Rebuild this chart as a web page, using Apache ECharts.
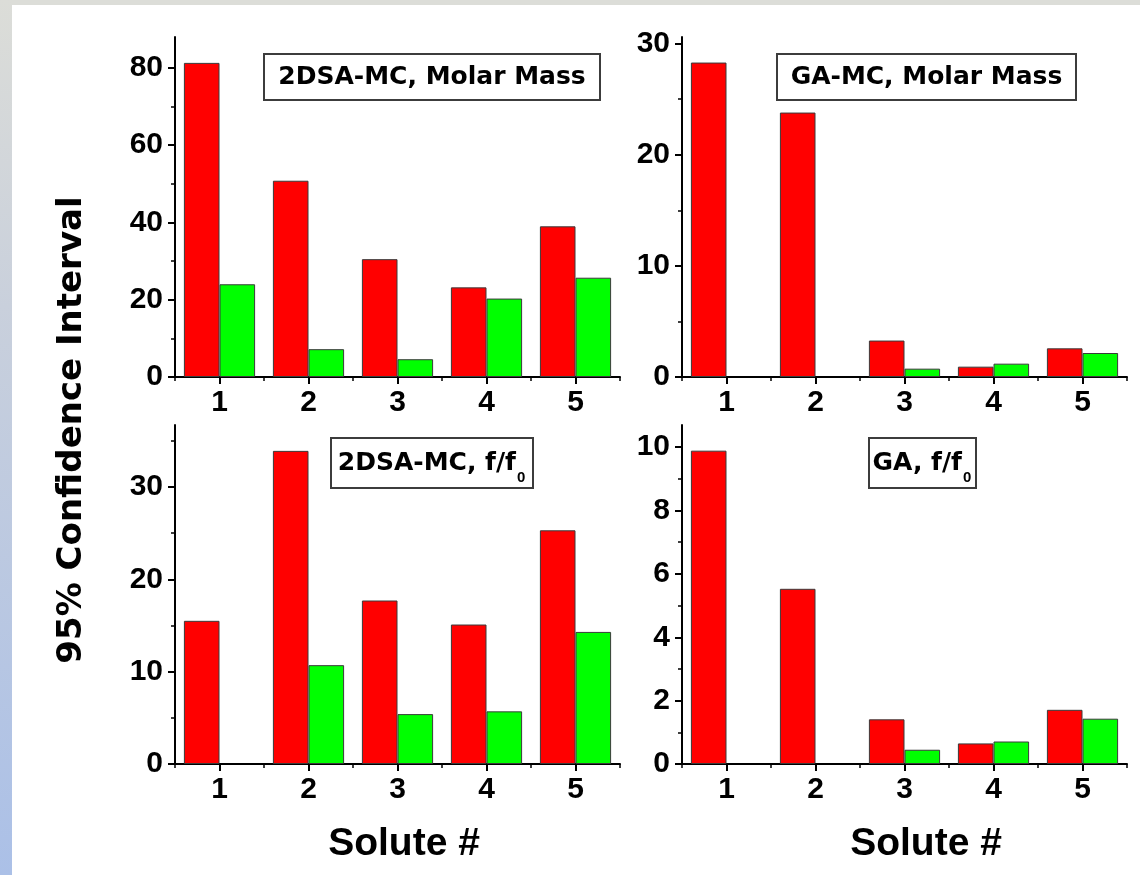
<!DOCTYPE html>
<html>
<head>
<meta charset="utf-8">
<script src="https://cdn.jsdelivr.net/npm/echarts@6/dist/echarts.min.js"></script>
<style>
  html, body { margin: 0; padding: 0; background: #fff; }
  #chart { width: 1140px; height: 875px; }
</style>
</head>
<body>
<div id="chart"></div>
<script>
// Solute numbers along every x axis
const categories = ['1', '2', '3', '4', '5'];

// 2DSA-MC, molar mass
const tlRed   = [81.3, 50.8, 30.5, 23.2, 39.0];
const tlGreen = [24.0, 7.2, 4.6, 20.3, 25.7];
// GA-MC, molar mass
const trRed   = [28.3, 23.8, 3.28, 0.93, 2.58];
const trGreen = [null, null, 0.75, 1.2, 2.16];
// 2DSA-MC, f/f0
const blRed   = [15.5, 33.9, 17.7, 15.1, 25.3];
const blGreen = [null, 10.7, 5.4, 5.7, 14.3];
// GA, f/f0
const brRed   = [9.89, 5.53, 1.41, 0.65, 1.71];
const brGreen = [null, null, 0.45, 0.71, 1.43];

// y tick labels (major) and minor tick positions per panel
const tlMajor = [0, 20, 40, 60, 80];   const tlMinor = [10, 30, 50, 70];
const trMajor = [0, 10, 20, 30];       const trMinor = [5, 15, 25];
const blMajor = [0, 10, 20, 30];       const blMinor = [5, 15, 25, 35];
const brMajor = [0, 2, 4, 6, 8, 10];   const brMinor = [1, 3, 5, 7, 9];

// axis upper limits
const tlMax = 88, trMax = 30.6, blMax = 36.7, brMax = 10.7;

const panels = [
  { grid: { left: 175, top: 37, width: 445, height: 340 }, red: tlRed, green: tlGreen, major: tlMajor, minor: tlMinor, max: tlMax },
  { grid: { left: 682, top: 37, width: 445, height: 340 }, red: trRed, green: trGreen, major: trMajor, minor: trMinor, max: trMax },
  { grid: { left: 175, top: 425, width: 445, height: 339 }, red: blRed, green: blGreen, major: blMajor, minor: blMinor, max: blMax },
  { grid: { left: 682, top: 425, width: 445, height: 339 }, red: brRed, green: brGreen, major: brMajor, minor: brMinor, max: brMax }
];

const labelFont = { color: '#000', fontFamily: '"Liberation Sans", Arial, sans-serif', fontWeight: 'bold', fontSize: 30 };
const lineStyle = { color: '#000', width: 2 };

const grids = [], xAxes = [], yAxes = [], series = [];
panels.forEach((p, i) => {
  grids.push(Object.assign({ containLabel: false }, p.grid));
  // labelled axis: ticks at the solute centres
  xAxes.push({
    type: 'category', gridIndex: i, data: categories, position: 'bottom',
    boundaryGap: true,
    axisLine: { show: true, onZero: false, lineStyle },
    axisTick: { show: true, alignWithLabel: true, length: 7, lineStyle: { color: '#000', width: 2 } },
    axisLabel: Object.assign({ margin: 11 }, labelFont),
    splitLine: { show: false }
  });
  // short ticks between solutes
  xAxes.push({
    type: 'category', gridIndex: i, data: categories, position: 'bottom',
    boundaryGap: true,
    axisLine: { show: false },
    axisTick: { show: true, interval: 0, length: 4, lineStyle: { color: '#000', width: 1.5 } },
    axisLabel: { show: false },
    splitLine: { show: false }
  });
  yAxes.push({
    type: 'value', gridIndex: i, position: 'left', min: 0, max: p.max,
    axisLine: { show: true, lineStyle },
    axisTick: { show: true, length: 7, customValues: p.major, lineStyle: { color: '#000', width: 2 } },
    axisLabel: Object.assign({ margin: 12, customValues: p.major }, labelFont),
    splitLine: { show: false }
  });
  yAxes.push({
    type: 'value', gridIndex: i, position: 'left', min: 0, max: p.max,
    axisLine: { show: false },
    axisTick: { show: true, length: 4, customValues: p.minor, lineStyle: { color: '#000', width: 1.5 } },
    axisLabel: { show: false },
    splitLine: { show: false }
  });
  const common = {
    type: 'bar', xAxisIndex: 2 * i, yAxisIndex: 2 * i,
    barWidth: '40%', barGap: '0%', animation: false
  };
  series.push(Object.assign({}, common, {
    name: 'red' + i, data: p.red,
    itemStyle: { color: '#ff0000', borderColor: '#3a3a3a', borderWidth: 1 }
  }));
  series.push(Object.assign({}, common, {
    name: 'green' + i, data: p.green,
    itemStyle: { color: '#00ff00', borderColor: '#3a3a3a', borderWidth: 1 }
  }));
});

// framed caption inside each panel
function captionBox(x, y, w, h, text, sub, subX) {
  const children = [{
    type: 'rect', shape: { x: x, y: y, width: w, height: h },
    style: { fill: '#fff', stroke: '#3c3c3c', lineWidth: 2 }
  }];
  if (sub) {
    children.push({
      type: 'text', x: subX, y: y + h / 2,
      style: { text: text, fill: '#000', font: 'bold 25px "DejaVu Sans", sans-serif', align: 'right', verticalAlign: 'middle' }
    });
    children.push({
      type: 'text', x: subX + 1, y: y + h / 2 + 15,
      style: { text: sub, fill: '#000', font: 'bold 15px "Liberation Sans", Arial, sans-serif', align: 'left', verticalAlign: 'middle' }
    });
  } else {
    children.push({
      type: 'text', x: x + w / 2, y: y + h / 2,
      style: { text: text, fill: '#000', font: 'bold 25px "DejaVu Sans", sans-serif', align: 'center', verticalAlign: 'middle' }
    });
  }
  return { type: 'group', z: 100, children: children };
}

const graphic = [
  // page frame: grey top strip and left strip fading to blue
  { type: 'rect', z: -10, shape: { x: 0, y: 0, width: 1140, height: 5 }, style: { fill: '#dcddd8' } },
  { type: 'rect', z: -10, shape: { x: 0, y: 0, width: 12, height: 875 },
    style: { fill: new echarts.graphic.LinearGradient(0, 0, 0, 1, [
      { offset: 0, color: '#dcddd8' },
      { offset: 0.35, color: '#c9d0dc' },
      { offset: 1, color: '#abc0e7' }
    ]) } },
  captionBox(264, 54, 336, 46, '2DSA-MC, Molar Mass'),
  captionBox(777, 54, 299, 46, 'GA-MC, Molar Mass'),
  captionBox(331, 438, 202, 50, '2DSA-MC, f/f', '0', 516),
  captionBox(869, 438, 107, 50, 'GA, f/f', '0', 962),
  { type: 'text', x: 72, y: 430, rotation: Math.PI / 2, z: 100,
    style: { text: '95% Confidence Interval', fill: '#000', font: 'bold 34px "DejaVu Sans", sans-serif', align: 'center', verticalAlign: 'middle' } },
  { type: 'text', x: 404, y: 844, z: 100,
    style: { text: 'Solute #', fill: '#000', font: 'bold 39px "Liberation Sans", Arial, sans-serif', align: 'center', verticalAlign: 'middle' } },
  { type: 'text', x: 926, y: 844, z: 100,
    style: { text: 'Solute #', fill: '#000', font: 'bold 39px "Liberation Sans", Arial, sans-serif', align: 'center', verticalAlign: 'middle' } }
];

const chart = echarts.init(document.getElementById('chart'), null, { renderer: 'canvas' });
chart.setOption({
  backgroundColor: '#ffffff',
  animation: false,
  grid: grids,
  xAxis: xAxes,
  yAxis: yAxes,
  series: series,
  graphic: graphic
});
</script>
</body>
</html>
